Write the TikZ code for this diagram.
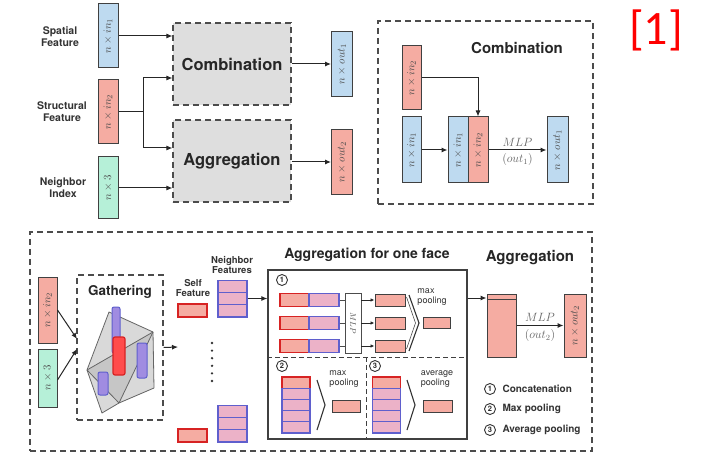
\documentclass[tikz,border=0pt]{standalone}
\usepackage{fontspec}
\usepackage{graphicx}
\usetikzlibrary{arrows.meta}
\newfontfamily\hel{TeX Gyre Heros}
\newfontfamily\refont{Carlito}
\definecolor{cblue}{RGB}{190,218,240}
\definecolor{cred}{RGB}{245,172,162}
\definecolor{cgreen}{RGB}{182,240,216}
\definecolor{cgray}{RGB}{222,222,222}
\definecolor{nbrfill}{RGB}{236,178,200}
\definecolor{nbrdraw}{RGB}{95,95,205}
\definecolor{selfdraw}{RGB}{215,35,35}
\definecolor{cylpurple}{RGB}{160,140,225}
\newcommand\barlab[1]{\rotatebox{90}{\fontsize{11}{11}\selectfont$#1$}}

\begin{document}
\begin{tikzpicture}[x=1pt,y=-1pt,
  arr/.style={-{Latex[length=6pt,width=5pt]}, line width=1pt, draw=black!85},
  sarr/.style={-{Latex[length=4pt,width=3.5pt]}, line width=0.8pt, draw=black!85},
  bar/.style={draw=black!75, line width=1pt, minimum width=20pt, minimum height=64pt, inner sep=0pt, text=black!70},
  lbl/.style={font=\hel\bfseries\fontsize{10.5}{12}\selectfont, align=center, text=black!80},
  slbl/.style={font=\hel\bfseries\fontsize{9.5}{10.5}\selectfont, align=center, text=black!80},
  plbl/.style={font=\hel\fontsize{9}{10}\selectfont, align=left, text=black!80},
  title/.style={font=\hel\bfseries\fontsize{15}{16}\selectfont, text=black!85},
  graybox/.style={draw=black!70, fill=cgray, line width=1.1pt, dash pattern=on 6pt off 4pt, minimum width=118pt, minimum height=82pt, font=\hel\bfseries\fontsize{16.5}{18}\selectfont, text=black!85},
  dashbox/.style={draw=black!70, line width=1.1pt, dash pattern=on 6pt off 4pt, inner sep=0pt},
  divdash/.style={draw=black!75, line width=1pt, dash pattern=on 5pt off 3pt},
  selfbox/.style={draw=selfdraw, fill=cred, line width=1.1pt, minimum width=29pt, minimum height=13pt, inner sep=0pt},
  nbrbox/.style={draw=nbrdraw, fill=nbrfill, line width=1.1pt, minimum width=29pt, minimum height=12.3pt, inner sep=0pt},
  outbox/.style={draw=black!75, fill=cred, line width=1pt, minimum width=30pt, minimum height=12pt, inner sep=0pt},
  mlp/.style={font=\fontsize{12}{13}\selectfont, text=black!60},
  num/.style={circle, draw=black!80, line width=0.9pt, inner sep=0pt, minimum size=11pt, font=\hel\bfseries\fontsize{7.5}{7.5}\selectfont, text=black!85},
  chev/.style={draw=black!80, line width=1.1pt, line join=miter}
]
\useasboundingbox (0,0) rectangle (706,454);
\fill[white] (0,0) rectangle (706,454);

% ---------- top left: inputs, two stages, outputs ----------
\node[lbl] (lsp) at (60,37) {Spatial\\Feature};
\node[lbl] (lst) at (62,112) {Structural\\Feature};
\node[lbl] (lni) at (63,188) {Neighbor\\Index};

\node[bar,fill=cblue] (sp) at (108,36) {\barlab{n\times in_1}};
\node[bar,fill=cred] (st) at (108,112) {\barlab{n\times in_2}};
\node[bar,fill=cgreen,minimum height=62pt] (ni) at (108,188) {\barlab{n\times 3}};

\node[graybox] (comb) at (232,64) {Combination};
\node[graybox] (aggr) at (232,161) {Aggregation};

\coordinate (br) at (143,112);
\coordinate (c78) at (0,78);
\coordinate (c148) at (0,148);
\draw[arr] (sp.east) -- (comb.west |- sp.east);
\draw[line width=1pt, black!85] (st.east) -- (br);
\draw[arr] (br) |- (comb.west |- c78);
\draw[arr] (br) |- (aggr.west |- c148);
\draw[arr] (ni.east) -- (aggr.west |- ni.east);

\node[bar,fill=cblue,minimum width=21pt,minimum height=65pt] (o1) at (342,64) {\barlab{n\times out_1}};
\node[bar,fill=cred,minimum width=21pt,minimum height=65pt] (o2) at (342,162) {\barlab{n\times out_2}};
\draw[arr] (comb.east) -- (o1.west);
\draw[arr] (aggr.east |- o2.west) -- (o2.west);

% ---------- combination detail ----------
\node[dashbox, minimum width=215pt, minimum height=183pt] (cframe) at (485.5,112.5) {};
\node[title] (ctitle) at (517,48) {Combination};
\node[bar,fill=cred,minimum width=19pt,minimum height=64pt] (ct) at (411.5,78) {\barlab{n\times in_2}};
\node[bar,fill=cblue,minimum width=19pt,minimum height=66pt] (cb) at (411.5,150) {\barlab{n\times in_1}};
\node[bar,fill=cblue,minimum height=66pt] (ccb) at (458,150) {\barlab{n\times in_1}};
\node[bar,fill=cred,minimum height=66pt] (ccr) at (478,150) {\barlab{n\times in_2}};
\node[bar,fill=cblue,minimum width=21pt,minimum height=66pt] (co) at (557.5,150) {\barlab{n\times out_1}};
\draw[arr] (ct.east) -| (ccr.north);
\draw[arr] (cb.east) -- (ccb.west);
\draw[arr] (ccr.east) -- node[above, mlp]{$MLP$} node[below, mlp]{$(out_1)$} (co.west);

% ---------- aggregation detail ----------
\node[dashbox, minimum width=562pt, minimum height=219pt] (bframe) at (311,341.5) {};

\node[bar,fill=cred,minimum width=19pt,minimum height=66pt] (bi2) at (47.5,310) {\barlab{n\times in_2}};
\node[bar,fill=cgreen,minimum width=19pt,minimum height=58pt] (bi3) at (47.5,378) {\barlab{n\times 3}};

\node[dashbox, minimum width=86pt, minimum height=145pt] (gath) at (120,347.5) {};
\node[title, font=\hel\bfseries\fontsize{13.5}{14}\selectfont] (gtitle) at (120,292) {Gathering};
\coordinate (gin1) at (77,339);
\coordinate (gin2) at (77,349);
\draw[arr] (bi2.east) -- (gin1);
\draw[arr] ([yshift=-2pt]bi3.east) -- (gin2);

% mesh face with its neighbours
\coordinate (g1) at (109,312);
\coordinate (g2) at (153,332);
\coordinate (g3) at (154,388);
\coordinate (g4) at (119,403);
\coordinate (g5) at (102,413);
\coordinate (g6) at (87,370);
\fill[gray!30] (g1) -- (g2) -- (g3) -- (g4) -- (g5) -- (g6) -- cycle;
\fill[gray!45] (g6) -- (g2) -- (g4) -- cycle;
\draw[black!60, line width=0.8pt, line join=round] (g1) -- (g2) -- (g3) -- (g4) -- (g5) -- (g6) -- cycle;
\draw[black!60, line width=0.8pt] (g6) -- (g2);
\draw[black!60, line width=0.8pt] (g6) -- (g4);
\draw[black!60, line width=0.8pt] (g2) -- (g4);
\draw[nbrdraw, fill=cylpurple, line width=1pt, rounded corners=2pt] (112,307) rectangle (120,353);
\draw[nbrdraw, fill=cylpurple, line width=1pt, rounded corners=2pt] (137,343) rectangle (147,378);
\draw[nbrdraw, fill=cylpurple, line width=1pt, rounded corners=2pt] (98,372) rectangle (108,395);
\draw[selfdraw, fill=red!70, line width=1.2pt, rounded corners=2pt] (113,337) rectangle (125,375);

\coordinate (gend) at (178,347);
\draw[arr] (gath.east) -- (gend);

% self and neighbour features
\node[slbl] (lsf) at (193,288) {Self\\Feature};
\node[selfbox] (sf1) at (192.5,310.5) {};
\node[selfbox] (sf2) at (192.5,435.5) {};
\node[slbl] (lnf) at (232,265) {Neighbor\\Features};
\node[nbrbox] (nf1a) at (232.5,286.2) {};
\node[nbrbox] (nf1b) at (232.5,298.5) {};
\node[nbrbox] (nf1c) at (232.5,310.8) {};
\node[nbrbox] (nf2a) at (232.5,411.2) {};
\node[nbrbox] (nf2b) at (232.5,423.5) {};
\node[nbrbox] (nf2c) at (232.5,435.8) {};
\foreach \k in {0,...,5} \fill[black!80] (212,343+7.6*\k) circle (1.3pt);

% aggregation for one face
\node[title, font=\hel\bfseries\fontsize{14}{15}\selectfont] (atitle) at (367,255) {Aggregation for one face};
\node[draw=black!75, line width=1.2pt, minimum width=199pt, minimum height=169pt, inner sep=0pt] (afo) at (367.5,354.5) {};
\draw[arr] (nf1b.east) -- (afo.west |- nf1b.east);
\coordinate (dv) at (0,357);
\coordinate (dvx) at (366,0);
\draw[divdash] (afo.west |- dv) -- (afo.east |- dv);
\draw[divdash] (dvx |- dv) -- (dvx |- afo.south);

\node[num] (n1) at (282,280) {1};
\node[num] (n2) at (282,366) {2};
\node[num] (n3) at (375,366) {3};

\node[draw=black!70, fill=white, line width=0.8pt, minimum width=16pt, minimum height=60pt, inner sep=0pt] (mlpb) at (353,323) {\rotatebox{-90}{\fontsize{8}{8}\selectfont\color{black!70}$MLP$}};
\foreach \i/\y in {1/300,2/323,3/346} {
  \node[selfbox] (r\i a) at (294.5,\y) {};
  \node[nbrbox, minimum width=30pt, minimum height=13pt] (r\i b) at (324,\y) {};
  \draw[black!70, line width=0.8pt] (r\i b.east) -- (mlpb.west |- r\i b.east);
  \node[outbox] (q\i) at (390,\y) {};
  \draw[sarr] (mlpb.east |- q\i.west) -- (q\i.west);
}
\draw[chev] (409,295) -- (419,323) -- (409,351);
\draw[black!70, line width=0.6pt] (406.5,297) -- (415.5,323) -- (406.5,349);
\node[plbl] (mp1) at (432,297) {max\\pooling};
\node[outbox, minimum width=27pt, minimum height=11pt] (p1) at (436.5,323) {};

% max pooling
\node[selfbox, minimum width=28pt, minimum height=11.2pt] (s2a) at (296,382.6) {};
\foreach \k/\y in {b/393.8,c/405,d/416.2,e/427.4}
  \node[nbrbox, minimum width=28pt, minimum height=11.2pt] (s2\k) at (296,\y) {};
\draw[chev] (317,380) -- (325,405) -- (317,430);
\node[plbl] (mp2) at (344,379) {max\\pooling};
\node[outbox, minimum width=28pt] (p2) at (346,406) {};

% average pooling
\node[selfbox, minimum width=28pt, minimum height=11.2pt] (s3a) at (386.5,382.6) {};
\foreach \k/\y in {b/393.8,c/405,d/416.2,e/427.4}
  \node[nbrbox, minimum width=28pt, minimum height=11.2pt] (s3\k) at (386.5,\y) {};
\draw[chev] (407,380) -- (415,405) -- (407,430);
\node[plbl] (mp3) at (437,379) {average\\pooling};
\node[outbox, minimum width=29pt] (p3) at (437.5,406) {};

% final aggregation
\node[title] (agtitle) at (530,258) {Aggregation};
\node[draw=black!75, fill=cred, line width=1pt, minimum width=29pt, minimum height=63pt, inner sep=0pt] (tall) at (501.5,325.5) {};
\draw[line width=1pt, black!75] ([yshift=-6pt]tall.north west) -- ([yshift=-6pt]tall.north east);
\coordinate (t1) at (0,298);
\draw[arr] (afo.east |- t1) -- (tall.west |- t1);
\node[bar,fill=cred,minimum width=22pt,minimum height=63pt] (fo) at (575,325.5) {\barlab{n\times out_2}};
\draw[arr] (tall.east |- fo.west) -- node[above, mlp]{$MLP$} node[below, mlp]{$(out_2)$} (fo.west);

% legend
\node[num] (k1) at (490,389) {1};
\node[num] (k2) at (490,409) {2};
\node[num] (k3) at (490,430) {3};
\node[lbl, anchor=west, font=\hel\bfseries\fontsize{10}{11}\selectfont] (k1t) at (499,389) {Concatenation};
\node[lbl, anchor=west, font=\hel\bfseries\fontsize{10}{11}\selectfont] (k2t) at (499,409) {Max pooling};
\node[lbl, anchor=west, font=\hel\bfseries\fontsize{10}{11}\selectfont] (k3t) at (499,430) {Average pooling};

% reference mark
\node[text=red, font=\refont\fontsize{48}{48}\selectfont] (ref) at (656,30) {[1]};
\end{tikzpicture}
\end{document}
